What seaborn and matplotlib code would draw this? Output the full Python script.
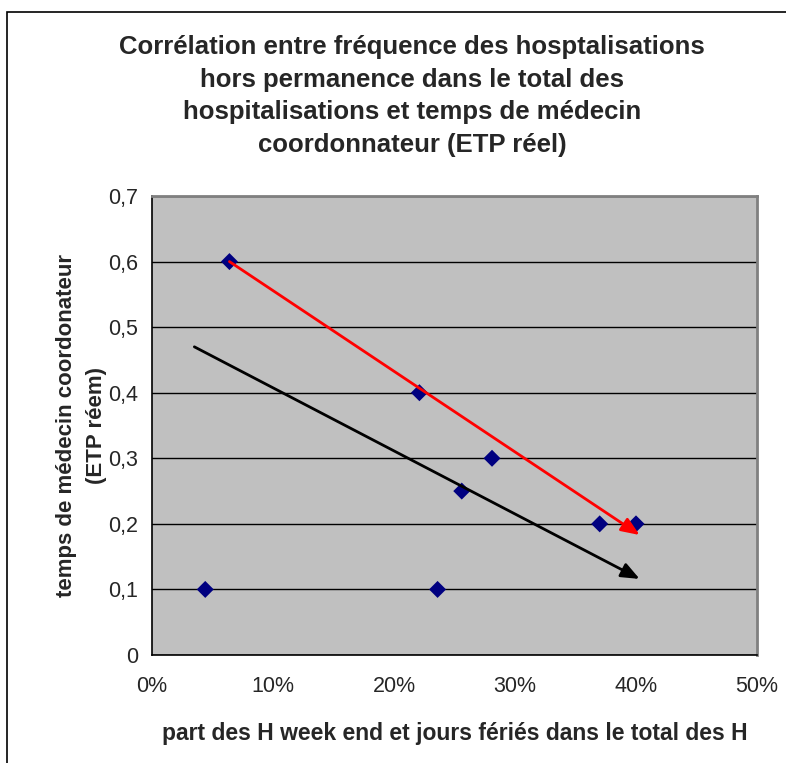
import matplotlib
matplotlib.use("Agg")
import matplotlib.pyplot as plt
import matplotlib.ticker as mticker
import seaborn as sns
import pandas as pd
from matplotlib.patches import Rectangle

# data
part_we = [0.064, 0.044, 0.221, 0.236, 0.256, 0.281, 0.370, 0.400]
etp = [0.6, 0.1, 0.4, 0.1, 0.25, 0.3, 0.2, 0.2]

# hand drawn trend arrows (start x, start y, end x, end y)
red_arrow = [0.064, 0.6, 0.403, 0.183]
black_arrow = [0.035, 0.47, 0.403, 0.116]

x_ticks = [0, 0.1, 0.2, 0.3, 0.4, 0.5]
y_ticks = [0, 0.1, 0.2, 0.3, 0.4, 0.5, 0.6, 0.7]

df = pd.DataFrame({"x": part_we, "y": etp})

sns.set_style("white")
plt.rcParams['font.family'] = ['Liberation Sans', 'DejaVu Sans']

fig = plt.figure(figsize=(7.86, 7.63), dpi=100)
ax = fig.add_axes([152 / 786, 1 - 655 / 763, 605 / 786, 459 / 763])
ax.set_facecolor("#C0C0C0")

# outer chart border (clipped at right / bottom like the original)
fig.patches.append(Rectangle((7 / 786, -0.1), 1.2, 1 - 12 / 763 + 0.1,
                             transform=fig.transFigure, fill=False,
                             edgecolor="black", linewidth=1.2))

ax.set_axisbelow(True)
ax.yaxis.grid(True, color="black", linewidth=1)
ax.xaxis.grid(False)

sns.scatterplot(data=df, x="x", y="y", marker="D", s=75, color="#000080",
                edgecolor="none", ax=ax, zorder=3)

arrow_style = "-|>,head_length=1.1,head_width=0.45"
ax.annotate("", xy=(red_arrow[2], red_arrow[3]), xytext=(red_arrow[0], red_arrow[1]),
            arrowprops=dict(arrowstyle=arrow_style, color="#FF0000", lw=2,
                            shrinkA=0, shrinkB=0), zorder=4)
ax.annotate("", xy=(black_arrow[2], black_arrow[3]), xytext=(black_arrow[0], black_arrow[1]),
            arrowprops=dict(arrowstyle=arrow_style, color="black", lw=2,
                            shrinkA=0, shrinkB=0), zorder=4)

ax.set_xlim(0, 0.5)
ax.set_ylim(0, 0.7)
ax.set_xticks(x_ticks)
ax.set_yticks(y_ticks)
ax.xaxis.set_major_formatter(mticker.FuncFormatter(lambda v, p: f"{v * 100:.0f}%"))
ax.yaxis.set_major_formatter(mticker.FuncFormatter(
    lambda v, p: "0" if abs(v) < 1e-9 else f"{v:.1f}".replace(".", ",")))
ax.tick_params(axis="both", direction="out", length=5, width=1, color="black",
               labelsize=15.5, pad=5)
ax.tick_params(axis="x", pad=10)

for side in ["left", "bottom"]:
    ax.spines[side].set_color("black")
    ax.spines[side].set_linewidth(1.2)
for side in ["top", "right"]:
    ax.spines[side].set_color("#808080")
    ax.spines[side].set_linewidth(2)

ax.set_xlabel("part des H week end et jours fériés dans le total des H",
              fontsize=16.5, fontweight="bold", labelpad=18)
ax.set_ylabel("temps de médecin coordonateur\n(ETP réem)",
              fontsize=16, fontweight="bold", labelpad=1, linespacing=1.55)

fig.text(412 / 786, 1 - 96 / 763,
         "Corrélation entre fréquence des hosptalisations\n"
         "hors permanence dans le total des\n"
         "hospitalisations et temps de médecin\n"
         "coordonnateur (ETP réel)",
         ha="center", va="center", fontsize=18.5, fontweight="bold", linespacing=1.47)

fig.savefig("out.png", dpi=100, facecolor="white")
